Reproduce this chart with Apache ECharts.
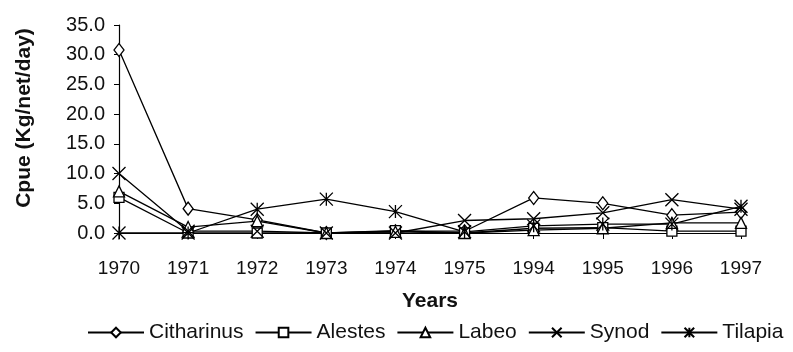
<!DOCTYPE html>
<html>
<head>
<meta charset="utf-8">
<script src="https://cdn.jsdelivr.net/npm/echarts@6/dist/echarts.min.js"></script>
<style>
html,body{margin:0;padding:0;background:#fff;}
#chart{width:793px;height:352px;}
</style>
</head>
<body>
<div id="chart"></div>
<script>
var years = ['1970','1971','1972','1973','1974','1975','1994','1995','1996','1997'];
var citharinus = [30.8, 4.1, 2.2, 0.0, 0.3, 0.3, 5.9, 5.0, 3.0, 3.5];
var alestes    = [6.0, 0.0, 0.0, 0.0, 0.4, 0.0, 0.8, 0.9, 0.3, 0.3];
var labeo      = [7.0, 1.0, 2.0, 0.0, 0.2, 0.0, 0.5, 0.8, 1.7, 1.7];
var synod      = [10.0, 0.3, 0.3, 0.0, 0.0, 2.1, 2.4, 3.4, 5.6, 4.0];
var tilapia    = [0.0, 0.0, 4.0, 5.7, 3.6, 0.2, 1.2, 1.5, 1.5, 4.5];

var FONT = '"Liberation Sans", Arial, sans-serif';
var chart = echarts.init(document.getElementById('chart'));

function mk(name, data, symbol, size) {
  return {
    name: name, type: 'line', data: data,
    symbol: symbol, symbolSize: size, showSymbol: true,
    lineStyle: {color: '#000', width: 1.3},
    itemStyle: {color: '#fff', borderColor: '#000', borderWidth: 1.3},
    emphasis: {disabled: true},
    animation: false
  };
}

chart.setOption({
  backgroundColor: '#fff',
  animation: false,
  grid: {left: 119, right: 52, top: 25, bottom: 119},
  legend: {
    left: 87, top: 322, width: 706, padding: 0,
    itemWidth: 56, itemHeight: 12, itemGap: 11,
    textStyle: {fontFamily: FONT, fontSize: 21, color: '#111'},
    data: ['Citharinus','Alestes','Labeo','Synod','Tilapia']
  },
  xAxis: {
    type: 'category', data: years, boundaryGap: false,
    name: 'Years', nameLocation: 'middle', nameGap: 58,
    nameTextStyle: {fontFamily: FONT, fontSize: 21, fontWeight: 'bold', color: '#111'},
    axisLine: {lineStyle: {color: '#000', width: 1.2}},
    axisTick: {show: true, length: 6, lineStyle: {color: '#000'}},
    axisLabel: {fontFamily: FONT, fontSize: 19, color: '#111', margin: 26}
  },
  yAxis: {
    type: 'value', min: 0, max: 35, interval: 5,
    name: 'Cpue (Kg/net/day)', nameLocation: 'middle', nameGap: 84,
    nameTextStyle: {fontFamily: FONT, fontSize: 21, fontWeight: 'bold', color: '#111', padding: [0, 0, 0, 22]},
    axisLine: {show: true, lineStyle: {color: '#000', width: 1.2}},
    axisTick: {show: true, length: 5, lineStyle: {color: '#000'}},
    splitLine: {show: false},
    axisLabel: {fontFamily: FONT, fontSize: 20, color: '#111', margin: 14,
      formatter: function (v) { return v.toFixed(1); }}
  },
  series: [
    mk('Citharinus', citharinus, 'diamond', [10, 13]),
    mk('Alestes', alestes, 'rect', 10),
    mk('Labeo', labeo, 'triangle', 11),
    mk('Synod', synod, 'path://M0,0L10,10M10,0L0,10', 13),
    mk('Tilapia', tilapia, 'path://M0,0L10,10M10,0L0,10M5,0L5,10', 13)
  ]
});
</script>
</body>
</html>
